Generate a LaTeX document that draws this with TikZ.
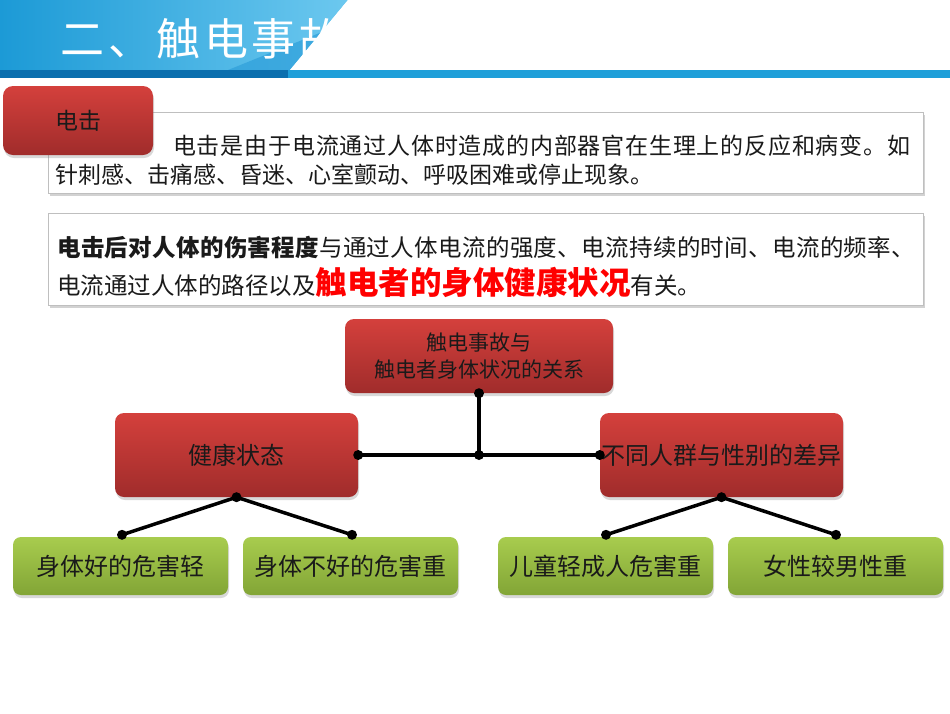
\documentclass[tikz,border=0pt]{standalone}
\usepackage{fontspec}
\setmainfont{Noto Sans CJK SC}
\newfontfamily\titlefont{Noto Sans CJK SC}[LetterSpace=9]
\usetikzlibrary{shadows}
\definecolor{hdrA}{HTML}{1C9AD6}
\definecolor{hdrB}{HTML}{6CC8EF}
\definecolor{hdrC}{HTML}{2E9FDA}
\definecolor{stripeDark}{HTML}{0B6FAE}
\definecolor{stripeLight}{HTML}{1F9FD9}
\definecolor{redT}{HTML}{D4403C}
\definecolor{redB}{HTML}{A02C2B}
\definecolor{greenT}{HTML}{A8CC4E}
\definecolor{greenB}{HTML}{82A536}
\definecolor{txt}{HTML}{1A1A1A}
\definecolor{boxline}{HTML}{BFBFBF}
\definecolor{hot}{HTML}{FF0000}
\tikzset{
  redbox/.style={rectangle, rounded corners=9pt, top color=redT, bottom color=redB,
    draw=none, text=txt, inner sep=0pt,
    drop shadow={shadow xshift=1pt, shadow yshift=-3pt, opacity=0.3}},
  greenbox/.style={rectangle, rounded corners=8pt, top color=greenT, bottom color=greenB,
    draw=none, text=txt, inner sep=0pt, minimum width=215pt, minimum height=58pt,
    font=\fontsize{24}{24}\selectfont,
    drop shadow={shadow xshift=1pt, shadow yshift=-3pt, opacity=0.3}},
  textbox/.style={rectangle, fill=white, draw=boxline, line width=0.8pt, inner sep=0pt,
    drop shadow={shadow xshift=1.5pt, shadow yshift=-2.5pt, opacity=0.35}},
  conn/.style={line width=3.5pt, black},
  dot/.style={fill=black}
}
\begin{document}
\begin{tikzpicture}[x=1pt,y=-1pt]
\useasboundingbox (0,0) rectangle (950,713);
\fill[white] (0,0) rectangle (950,713);
% header
\shade[left color=hdrA, right color=hdrB] (0,0) -- (348,0) -- (290,70) -- (0,70) -- cycle;
\fill[hdrC, opacity=0.7] (228,70) -- (290,70) -- (322,32) -- cycle;
\node[anchor=base west, text=white, inner sep=0pt, font=\titlefont\fontsize{44}{44}\selectfont] (title) at (60,55) {二、触电事故};
\fill[white] (348,0) -- (950,0) -- (950,70) -- (290,70) -- cycle;
\fill[stripeDark] (0,70) rectangle (288,78);
\fill[stripeLight] (288,70) rectangle (950,78);
% text box 1
\node[textbox, minimum width=875pt, minimum height=81pt] (box1) at (485.5,152.5) {};
\node[anchor=west, inner sep=0pt, text=txt, font=\fontsize{23}{23}\selectfont\addfontfeature{LetterSpace=3.5}] (b1l1) at (173,146) {电击是由于电流通过人体时造成的内部器官在生理上的反应和病变。如};
\node[anchor=west, inner sep=0pt, text=txt, font=\fontsize{23}{23}\selectfont] (b1l2) at (55,175) {针刺感、击痛感、昏迷、心室颤动、呼吸困难或停止现象。};
\node[redbox, rounded corners=10pt, minimum width=150pt, minimum height=69pt, font=\fontsize{23}{23}\selectfont] (shock) at (78,120.5) {电击};
% text box 2
\node[textbox, minimum width=875pt, minimum height=92pt] (box2) at (485.5,259) {};
\node[anchor=base west, inner sep=0pt, text=txt, font=\fontsize{23.5}{23.5}\selectfont\addfontfeature{LetterSpace=1.5}] (b2l1) at (57,256) {{\bfseries 电击后对人体的伤害程度}与通过人体电流的强度、电流持续的时间、电流的频率、};
\node[anchor=base west, inner sep=0pt, text=txt, font=\fontsize{23.5}{23.5}\selectfont] (b2l2) at (57,294) {电流通过人体的路径以及{\bfseries\color{hot}\fontsize{31.5}{31.5}\selectfont 触电者的身体健康状况}有关。};
% diagram
\node[redbox, minimum width=268pt, minimum height=74pt, align=center, font=\fontsize{21}{27}\selectfont] (top) at (479,356) {触电事故与\\触电者身体状况的关系};
\node[redbox, minimum width=243pt, minimum height=84pt, font=\fontsize{24}{24}\selectfont] (health) at (236.5,455) {健康状态};
\node[redbox, minimum width=243pt, minimum height=84pt, font=\fontsize{24}{24}\selectfont] (diff) at (721.5,455) {不同人群与性别的差异};
\node[greenbox] (ga) at (120.5,566) {身体好的危害轻};
\node[greenbox] (gb) at (350.5,566) {身体不好的危害重};
\node[greenbox] (gc) at (605.5,566) {儿童轻成人危害重};
\node[greenbox] (gd) at (835.5,566) {女性较男性重};
\coordinate (hub) at (479,455);
\coordinate (pa) at ([xshift=1.5pt,yshift=2pt]ga.north);
\coordinate (pb) at ([xshift=1.5pt,yshift=2pt]gb.north);
\coordinate (pc) at ([xshift=0.5pt,yshift=2pt]gc.north);
\coordinate (pd) at ([xshift=0.5pt,yshift=2pt]gd.north);
\draw[conn] (top.south) -- (hub);
\draw[conn] (health.east) -- (diff.west);
\draw[conn] (pa) -- (health.south) -- (pb);
\draw[conn] (pc) -- (diff.south) -- (pd);
\foreach \p in {top.south, hub, health.east, diff.west, health.south, diff.south, pa, pb, pc, pd}
  \fill[dot] (\p) circle (5pt);
\end{tikzpicture}
\end{document}
